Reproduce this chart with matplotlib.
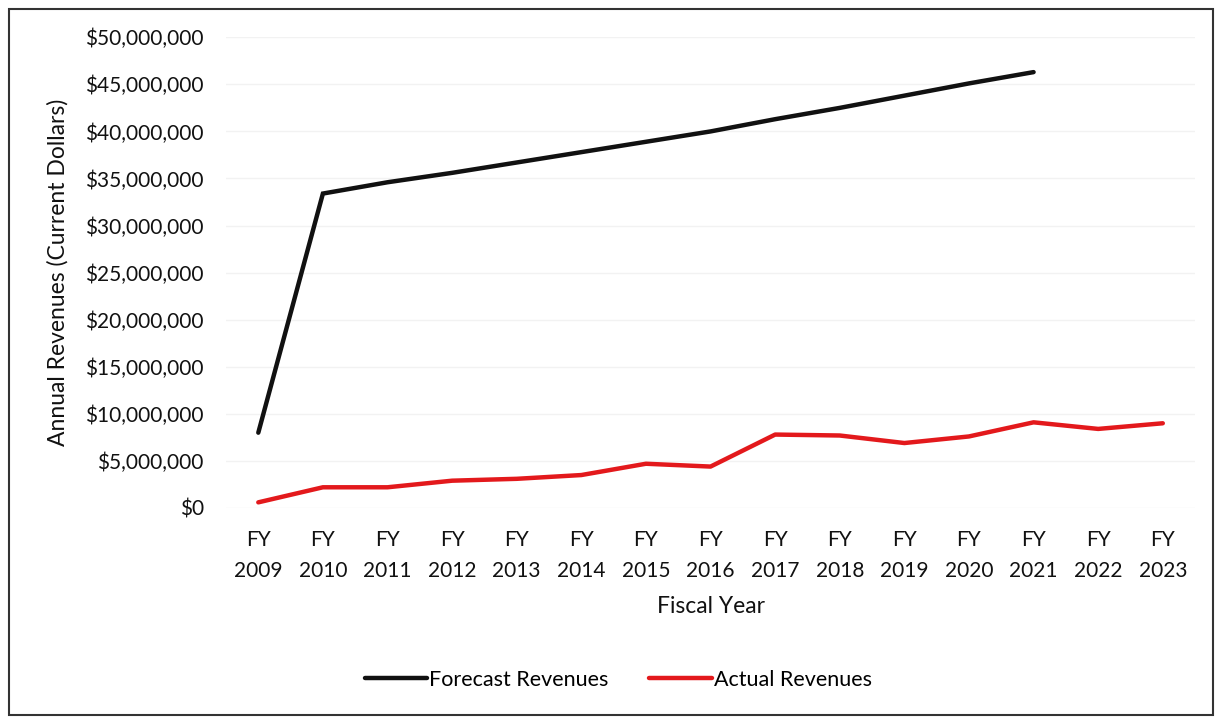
import matplotlib
matplotlib.use("Agg")
import matplotlib.pyplot as plt
from matplotlib.ticker import FuncFormatter
from matplotlib.patches import Rectangle

years = ["FY\n2009", "FY\n2010", "FY\n2011", "FY\n2012", "FY\n2013", "FY\n2014", "FY\n2015",
         "FY\n2016", "FY\n2017", "FY\n2018", "FY\n2019", "FY\n2020", "FY\n2021", "FY\n2022", "FY\n2023"]
forecast = [8.0e6, 33.4e6, 34.6e6, 35.6e6, 36.7e6, 37.8e6, 38.9e6, 40.0e6,
            41.3e6, 42.5e6, 43.8e6, 45.1e6, 46.3e6]
actual = [0.6e6, 2.2e6, 2.2e6, 2.9e6, 3.1e6, 3.5e6, 4.7e6, 4.4e6,
          7.8e6, 7.7e6, 6.9e6, 7.6e6, 9.1e6, 8.4e6, 9.0e6]
yticks = [0, 5e6, 10e6, 15e6, 20e6, 25e6, 30e6, 35e6, 40e6, 45e6, 50e6]

plt.rcParams['font.family'] = ['Lato', 'DejaVu Sans']

fig = plt.figure(figsize=(12.17, 7.17), dpi=100)
ax = fig.add_axes([0.1857, 0.2915, 0.982 - 0.1857, 0.948 - 0.2915])

x = list(range(len(years)))
ax.plot(x[:len(forecast)], forecast, color='#111111', lw=3.2, label='Forecast Revenues',
        solid_capstyle='round', solid_joinstyle='miter')
ax.plot(x, actual, color='#e3191c', lw=3.2, label='Actual Revenues',
        solid_capstyle='round', solid_joinstyle='round')

ax.set_xlim(-0.5, len(years) - 0.5)
ax.set_ylim(0, 50e6)
ax.set_yticks(yticks)
ax.yaxis.set_major_formatter(FuncFormatter(lambda v, p: f"${v:,.0f}"))
ax.set_xticks(x)
ax.set_xticklabels(years, linespacing=1.65)
ax.tick_params(axis='both', length=0, labelsize=15, colors='#111111')
ax.tick_params(axis='x', pad=16)
ax.tick_params(axis='y', pad=16)
for s in ax.spines.values():
    s.set_visible(False)
ax.grid(axis='y', color='#f2f2f2', lw=1)
ax.set_axisbelow(True)

ax.set_ylabel('Annual Revenues (Current Dollars)', fontsize=16.5, labelpad=12, color='#111111')
ax.set_xlabel('Fiscal Year', fontsize=16.5, labelpad=11, color='#111111')

fig.legend(loc='center', bbox_to_anchor=(0.508, 0.052), ncol=2, frameon=False,
           fontsize=15.5, handlelength=2.9, handletextpad=0.1, columnspacing=1.9)

fig.patches.append(Rectangle((0.007, 0.003), 0.99, 0.985, transform=fig.transFigure,
                             fill=False, edgecolor='#333333', lw=1.5))

fig.savefig('out.png', dpi=100)
